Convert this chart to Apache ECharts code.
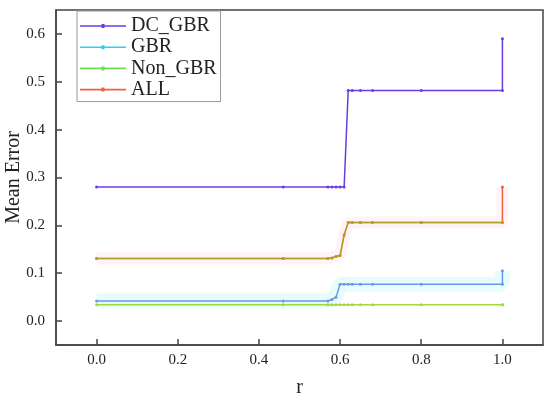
<!DOCTYPE html>
<html>
<head>
<meta charset="utf-8">
<script src="https://cdn.jsdelivr.net/npm/echarts@6/dist/echarts.min.js"></script>
<style>html,body{margin:0;padding:0;background:#fff}#c{width:550px;height:398px}</style>
</head>
<body>
<div id="c"></div>
<script>
var r       = [0, 0.46, 0.57, 0.58, 0.59, 0.60, 0.61, 0.62, 0.63, 0.65, 0.68, 0.8, 1.0, 1.0];
var dcGbr   = [0.28, 0.28, 0.28, 0.28, 0.28, 0.28, 0.28, 0.482, 0.482, 0.482, 0.482, 0.482, 0.482, 0.59];
var gbr     = [0.042, 0.042, 0.042, 0.045, 0.05, 0.077, 0.077, 0.077, 0.077, 0.077, 0.077, 0.077, 0.077, 0.105];
var nonGbr  = [0.034, 0.034, 0.034, 0.034, 0.034, 0.034, 0.034, 0.034, 0.034, 0.034, 0.034, 0.034, 0.034, 0.034];
var all     = [0.131, 0.131, 0.131, 0.132, 0.135, 0.137, 0.18, 0.206, 0.206, 0.206, 0.206, 0.206, 0.206, 0.28];
var xTicks  = [0, 0.2, 0.4, 0.6, 0.8, 1.0];
var yTicks  = [0, 0.1, 0.2, 0.3, 0.4, 0.5, 0.6];
var names   = ['DC_GBR', 'GBR', 'Non_GBR', 'ALL'];
var legendColors = ['#6a3ce6', '#30cfee', '#6ee050', '#f2603a'];

function pairs(ys, n){ var out = r.map(function(x,i){ return [x, ys[i]]; }); return n ? out.slice(0, n) : out; }

var FONT = '"Liberation Serif", "Times New Roman", serif';
var chart = echarts.init(document.getElementById('c'), null, {renderer:'canvas'});

function band(ys, color, w){
  return {type:'line', data:pairs(ys), symbol:'none', silent:true, z:1,
    lineStyle:{color:color, width:w, cap:'butt'}, emphasis:{disabled:true}};
}
function main(name, ys, color, n, opacity){
  return {name:name, type:'line', data:pairs(ys, n), symbol:'circle', symbolSize:3, z:3,
    itemStyle:{color:color, opacity:opacity || 1}, lineStyle:{color:color, width:1.5, opacity:opacity || 1},
    emphasis:{disabled:true}};
}
var legendIcon = 'path://M0,1.2 L46,1.2 L46,2.8 L0,2.8 Z M21.5,0 L24.5,0 L24.5,4 L21.5,4 Z';

var option = {
  animation:false,
  grid:{left:56, right:7, top:10, bottom:53, outerBoundsMode:'none', containLabel:false,
    show:true, borderColor:'#444', borderWidth:1.5, backgroundColor:'transparent'},
  xAxis:{type:'value', min:-0.1, max:1.1,
    name:'r', nameLocation:'middle', nameGap:33, nameMoveOverlap:false,
    nameTextStyle:{fontFamily:FONT, fontSize:20, color:'#222'},
    axisLine:{show:true, onZero:false, lineStyle:{color:'#444', width:1.5}},
    axisTick:{show:true, inside:true, length:6, customValues:xTicks, lineStyle:{color:'#444', width:1.5}},
    axisLabel:{customValues:xTicks, fontFamily:FONT, fontSize:15, color:'#222', margin:8,
      formatter:function(v){return v.toFixed(1);}},
    splitLine:{show:false}},
  yAxis:{type:'value', min:-0.05, max:0.65,
    name:'Mean Error', nameLocation:'middle', nameGap:32, nameMoveOverlap:false,
    nameTextStyle:{fontFamily:FONT, fontSize:20, color:'#222'},
    axisLine:{show:true, onZero:false, lineStyle:{color:'#444', width:1.5}},
    axisTick:{show:true, inside:true, length:6, customValues:yTicks, lineStyle:{color:'#444', width:1.5}},
    axisLabel:{customValues:yTicks, fontFamily:FONT, fontSize:15, color:'#222', margin:11,
      formatter:function(v){return v.toFixed(1);}},
    splitLine:{show:false}},
  legend:{orient:'vertical', left:77, top:11,
    padding:[5,4,2,3], itemGap:1.2, itemWidth:46, itemHeight:4,
    borderColor:'#999', borderWidth:1, backgroundColor:'#fff',
    textStyle:{fontFamily:FONT, fontSize:20, lineHeight:20, color:'#222'},
    data:names.map(function(n,i){ return {name:n, icon:legendIcon,
      itemStyle:{color:legendColors[i], opacity:1, borderWidth:0},
      lineStyle:{color:legendColors[i], opacity:1}}; })},
  series:[
    band(gbr, '#e8fbfd', 15),
    band(all, '#fef4f8', 12),
    main('DC_GBR', dcGbr, '#6a3ce6'),
    main('GBR', gbr, '#6c98ea'),
    main('Non_GBR', nonGbr, '#a2d83a'),
    main('ALL', all, '#f2603a'),
    main('ALL_overlay', all, '#8ec21e', all.length - 1, 0.65)
  ]
};
chart.setOption(option);
</script>
</body>
</html>
